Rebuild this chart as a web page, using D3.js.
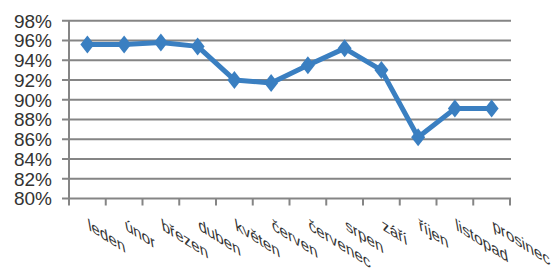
<!DOCTYPE html>
<html><head><meta charset="utf-8">
<script src="https://cdn.jsdelivr.net/npm/d3@7/dist/d3.min.js"></script>
<style>body{margin:0;background:#fff}svg{display:block}</style>
</head><body><svg id="c" width="558" height="270"></svg>
<script>
const months = ["leden","únor","březen","duben","květen","červen","červenec","srpen","září","říjen","listopad","prosinec"];
const values = [95.6, 95.6, 95.8, 95.4, 92.0, 91.7, 93.5, 95.2, 93.0, 86.2, 89.1, 89.1];
const yTicks = [80,82,84,86,88,90,92,94,96,98];

(function(){
const svg = d3.select("#c");
const mLeft = 69, mRight = 510, mTop = 20.7, mBottom = 198.5;
const x = d3.scaleBand().domain(months).range([mLeft, mRight]);
const y = d3.scaleLinear().domain([80, 98]).range([mBottom, mTop]);
const grey = "#858585";

svg.append("g").selectAll("line").data(yTicks).join("line")
  .attr("x1", mLeft - 7).attr("x2", mRight + 1)
  .attr("y1", d => y(d)).attr("y2", d => y(d))
  .attr("stroke", grey).attr("stroke-width", 2);

svg.append("line").attr("x1", mLeft).attr("x2", mLeft).attr("y1", mTop).attr("y2", mBottom)
  .attr("stroke", grey).attr("stroke-width", 2);

const tickPos = months.map(m => x(m)).concat([mRight]);
svg.append("g").selectAll("line").data(tickPos).join("line")
  .attr("x1", d => d).attr("x2", d => d).attr("y1", mBottom).attr("y2", mBottom + 7)
  .attr("stroke", grey).attr("stroke-width", 2);

svg.append("g").selectAll("text").data(yTicks).join("text")
  .attr("x", 52).attr("y", d => y(d)).attr("dy", "0.36em")
  .attr("text-anchor", "end")
  .attr("font-family", "Liberation Sans, Arial, sans-serif").attr("font-size", 19)
  .attr("fill", "#333").text(d => d + "%");

svg.append("g").selectAll("text").data(months).join("text")
  .attr("transform", d => `matrix(0.848,0.53,0.167,0.945,${x(d) + x.bandwidth()/2 + 1.5},${mBottom + 31.5})`)
  .attr("text-anchor", "start")
  .attr("font-family", "Liberation Sans, Arial, sans-serif").attr("font-size", 18)
  .attr("fill", "#333").text(d => d);

const cx = m => x(m) + x.bandwidth()/2;
svg.append("path").datum(values)
  .attr("d", d3.line().x((d,i) => cx(months[i])).y(d => y(d)))
  .attr("fill", "none").attr("stroke", "#3a7fc1").attr("stroke-width", 5)
  .attr("stroke-linejoin", "round");

svg.append("g").selectAll("path").data(values).join("path")
  .attr("transform", (d,i) => `translate(${cx(months[i])},${y(d)})`)
  .attr("d", "M0,-9 L7,0 L0,9 L-7,0 Z")
  .attr("fill", "#3a7fc1");
})();
</script></body></html>
